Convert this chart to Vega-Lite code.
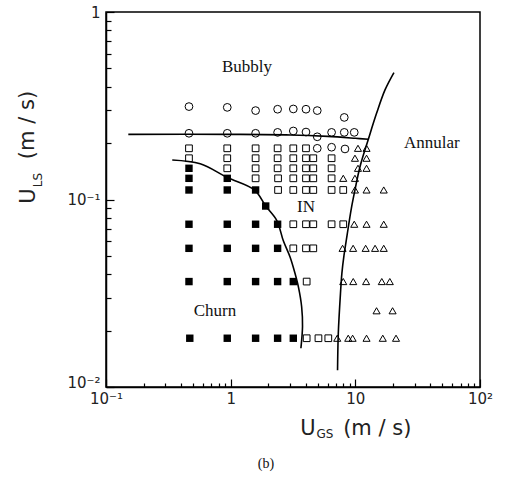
{
  "$schema": "https://vega.github.io/schema/vega-lite/v6.json",
  "width": 374,
  "height": 375,
  "autosize": {"type": "none"},
  "padding": {"left": 106, "top": 12, "right": 30, "bottom": 90},
  "background": "white",
  "config": {
    "view": {"stroke": "black", "strokeWidth": 1.5},
    "axis": {
      "domainColor": "black",
      "domainWidth": 1.5,
      "tickColor": "black",
      "tickWidth": 1.2,
      "grid": false,
      "labelFont": "DejaVu Sans",
      "labelFontSize": 15,
      "labelColor": "#222"
    }
  },
  "datasets": {
    "pts": [
      {"x": 0.463, "y": 0.313, "k": "b"}, {"x": 0.939, "y": 0.31, "k": "b"}, {"x": 1.585, "y": 0.298, "k": "b"},
      {"x": 2.38, "y": 0.303, "k": "b"}, {"x": 3.18, "y": 0.304, "k": "b"}, {"x": 4.02, "y": 0.303, "k": "b"},
      {"x": 4.95, "y": 0.298, "k": "b"}, {"x": 8.15, "y": 0.274, "k": "b"},
      {"x": 0.463, "y": 0.2255, "k": "b"}, {"x": 0.939, "y": 0.2255, "k": "b"}, {"x": 1.585, "y": 0.2255, "k": "b"},
      {"x": 2.38, "y": 0.228, "k": "b"}, {"x": 3.18, "y": 0.232, "k": "b"}, {"x": 4.02, "y": 0.229, "k": "b"},
      {"x": 4.95, "y": 0.216, "k": "b"}, {"x": 6.45, "y": 0.228, "k": "b"}, {"x": 8.15, "y": 0.228, "k": "b"},
      {"x": 9.8, "y": 0.228, "k": "b"},
      {"x": 4.95, "y": 0.1875, "k": "b"}, {"x": 6.45, "y": 0.19, "k": "b"}, {"x": 8.26, "y": 0.186, "k": "b"},

      {"x": 0.463, "y": 0.1875, "k": "i"}, {"x": 0.939, "y": 0.1875, "k": "i"}, {"x": 1.585, "y": 0.1875, "k": "i"},
      {"x": 2.38, "y": 0.1875, "k": "i"}, {"x": 3.18, "y": 0.1875, "k": "i"}, {"x": 4.02, "y": 0.1875, "k": "i"},
      {"x": 0.463, "y": 0.166, "k": "i"}, {"x": 0.939, "y": 0.166, "k": "i"}, {"x": 1.585, "y": 0.166, "k": "i"},
      {"x": 2.38, "y": 0.166, "k": "i"}, {"x": 3.18, "y": 0.166, "k": "i"}, {"x": 4.02, "y": 0.166, "k": "i"},
      {"x": 4.6, "y": 0.166, "k": "i"}, {"x": 6.45, "y": 0.166, "k": "i"},
      {"x": 0.939, "y": 0.1467, "k": "i"}, {"x": 1.585, "y": 0.1467, "k": "i"}, {"x": 2.38, "y": 0.1467, "k": "i"},
      {"x": 3.18, "y": 0.1467, "k": "i"}, {"x": 4.02, "y": 0.1467, "k": "i"}, {"x": 4.6, "y": 0.1467, "k": "i"},
      {"x": 6.45, "y": 0.1467, "k": "i"},
      {"x": 1.585, "y": 0.1297, "k": "i"}, {"x": 2.4, "y": 0.1297, "k": "i"}, {"x": 3.18, "y": 0.1297, "k": "i"},
      {"x": 4.02, "y": 0.1297, "k": "i"}, {"x": 4.6, "y": 0.1297, "k": "i"}, {"x": 6.45, "y": 0.1297, "k": "i"},
      {"x": 2.4, "y": 0.1124, "k": "i"}, {"x": 3.18, "y": 0.1124, "k": "i"}, {"x": 4.02, "y": 0.1124, "k": "i"},
      {"x": 4.6, "y": 0.1124, "k": "i"}, {"x": 6.45, "y": 0.1124, "k": "i"}, {"x": 8.0, "y": 0.1124, "k": "i"},
      {"x": 3.18, "y": 0.0738, "k": "i"}, {"x": 4.02, "y": 0.0738, "k": "i"}, {"x": 4.6, "y": 0.0738, "k": "i"},
      {"x": 6.45, "y": 0.0738, "k": "i"}, {"x": 8.0, "y": 0.0738, "k": "i"},
      {"x": 3.18, "y": 0.0549, "k": "i"}, {"x": 4.02, "y": 0.0549, "k": "i"}, {"x": 4.6, "y": 0.0549, "k": "i"},
      {"x": 4.07, "y": 0.0365, "k": "i"},
      {"x": 4.07, "y": 0.0182, "k": "i"}, {"x": 5.06, "y": 0.0182, "k": "i"}, {"x": 6.07, "y": 0.0182, "k": "i"},

      {"x": 0.463, "y": 0.1467, "k": "c"}, {"x": 0.463, "y": 0.1297, "k": "c"}, {"x": 0.463, "y": 0.1124, "k": "c"},
      {"x": 0.463, "y": 0.0738, "k": "c"}, {"x": 0.463, "y": 0.0549, "k": "c"}, {"x": 0.463, "y": 0.0365, "k": "c"},
      {"x": 0.47, "y": 0.0182, "k": "c"},
      {"x": 0.939, "y": 0.1297, "k": "c"}, {"x": 0.939, "y": 0.1124, "k": "c"}, {"x": 0.939, "y": 0.0738, "k": "c"},
      {"x": 0.939, "y": 0.0549, "k": "c"}, {"x": 0.939, "y": 0.0365, "k": "c"}, {"x": 0.939, "y": 0.0182, "k": "c"},
      {"x": 1.585, "y": 0.1124, "k": "c"}, {"x": 1.585, "y": 0.0738, "k": "c"}, {"x": 1.585, "y": 0.0549, "k": "c"},
      {"x": 1.585, "y": 0.0365, "k": "c"}, {"x": 1.585, "y": 0.0182, "k": "c"},
      {"x": 1.91, "y": 0.0923, "k": "c"},
      {"x": 2.38, "y": 0.0738, "k": "c"}, {"x": 2.38, "y": 0.0549, "k": "c"}, {"x": 2.38, "y": 0.0365, "k": "c"},
      {"x": 2.38, "y": 0.0182, "k": "c"},
      {"x": 3.18, "y": 0.0365, "k": "c"}, {"x": 3.18, "y": 0.0182, "k": "c"},

      {"x": 10.5, "y": 0.1875, "k": "a"}, {"x": 12.3, "y": 0.1875, "k": "a"},
      {"x": 9.93, "y": 0.166, "k": "a"}, {"x": 12.3, "y": 0.166, "k": "a"},
      {"x": 10.5, "y": 0.1467, "k": "a"}, {"x": 12.3, "y": 0.1467, "k": "a"},
      {"x": 8.0, "y": 0.1297, "k": "a"}, {"x": 9.93, "y": 0.1297, "k": "a"},
      {"x": 9.93, "y": 0.1124, "k": "a"}, {"x": 12.3, "y": 0.1124, "k": "a"}, {"x": 16.9, "y": 0.1124, "k": "a"},
      {"x": 9.8, "y": 0.0738, "k": "a"}, {"x": 12.3, "y": 0.0738, "k": "a"}, {"x": 16.9, "y": 0.0738, "k": "a"},
      {"x": 7.9, "y": 0.0549, "k": "a"}, {"x": 9.6, "y": 0.0549, "k": "a"}, {"x": 12.1, "y": 0.0549, "k": "a"},
      {"x": 14.4, "y": 0.0549, "k": "a"}, {"x": 16.9, "y": 0.0549, "k": "a"},
      {"x": 8.0, "y": 0.0365, "k": "a"}, {"x": 9.62, "y": 0.0365, "k": "a"}, {"x": 12.2, "y": 0.0365, "k": "a"},
      {"x": 16.3, "y": 0.0365, "k": "a"}, {"x": 18.9, "y": 0.0365, "k": "a"},
      {"x": 14.8, "y": 0.0255, "k": "a"}, {"x": 19.9, "y": 0.0255, "k": "a"},
      {"x": 7.16, "y": 0.0182, "k": "a"}, {"x": 8.77, "y": 0.0182, "k": "a"}, {"x": 9.51, "y": 0.0182, "k": "a"},
      {"x": 12.3, "y": 0.0182, "k": "a"}, {"x": 16.6, "y": 0.0182, "k": "a"}, {"x": 21.2, "y": 0.0182, "k": "a"}
    ],
    "curves": [
      {"c": "top", "i": 0, "x": 0.151, "y": 0.2225},
      {"c": "top", "i": 1, "x": 1.0, "y": 0.2225},
      {"c": "top", "i": 2, "x": 3.0, "y": 0.221},
      {"c": "top", "i": 3, "x": 6.0, "y": 0.217},
      {"c": "top", "i": 4, "x": 10.0, "y": 0.212},
      {"c": "top", "i": 5, "x": 12.7, "y": 0.2094},

      {"c": "churn", "i": 0, "x": 0.34, "y": 0.1625},
      {"c": "churn", "i": 1, "x": 0.57, "y": 0.155},
      {"c": "churn", "i": 2, "x": 0.94, "y": 0.131},
      {"c": "churn", "i": 3, "x": 1.55, "y": 0.1124},
      {"c": "churn", "i": 4, "x": 1.91, "y": 0.0923},
      {"c": "churn", "i": 5, "x": 2.34, "y": 0.0775},
      {"c": "churn", "i": 6, "x": 2.65, "y": 0.06},
      {"c": "churn", "i": 7, "x": 2.99, "y": 0.0495},
      {"c": "churn", "i": 8, "x": 3.28, "y": 0.0404},
      {"c": "churn", "i": 9, "x": 3.5, "y": 0.034},
      {"c": "churn", "i": 10, "x": 3.71, "y": 0.0268},
      {"c": "churn", "i": 11, "x": 3.77, "y": 0.021},
      {"c": "churn", "i": 12, "x": 3.66, "y": 0.0161},

      {"c": "ann", "i": 0, "x": 7.2, "y": 0.0123},
      {"c": "ann", "i": 1, "x": 7.3, "y": 0.0193},
      {"c": "ann", "i": 2, "x": 7.6, "y": 0.0316},
      {"c": "ann", "i": 3, "x": 7.8, "y": 0.0404},
      {"c": "ann", "i": 4, "x": 8.1, "y": 0.05},
      {"c": "ann", "i": 5, "x": 8.6, "y": 0.065},
      {"c": "ann", "i": 6, "x": 9.3, "y": 0.09},
      {"c": "ann", "i": 7, "x": 9.93, "y": 0.1124},
      {"c": "ann", "i": 8, "x": 10.9, "y": 0.1496},
      {"c": "ann", "i": 9, "x": 12.7, "y": 0.209},
      {"c": "ann", "i": 10, "x": 14.8, "y": 0.288},
      {"c": "ann", "i": 11, "x": 17.3, "y": 0.384},
      {"c": "ann", "i": 12, "x": 20.4, "y": 0.475}
    ],
    "regions": [
      {"t": "Bubbly", "x": 1.35, "y": 0.509},
      {"t": "Annular", "x": 41.1, "y": 0.2},
      {"t": "IN", "x": 4.02, "y": 0.0912},
      {"t": "Churn", "x": 0.748, "y": 0.0254}
    ],
    "caption": [
      {"t": "(b)", "x": 1.92, "y": 0.00388}
    ],
    "titles": [
      {"t": "U", "x": 4.17, "y": 0.00597, "p": "xbig"},
      {"t": "GS", "x": 5.7, "y": 0.00561, "p": "xsub"},
      {"t": "(m / s)", "x": 15.0, "y": 0.00597, "p": "xbig"},
      {"t": "U", "x": 0.02415, "y": 0.1044, "p": "ybig"},
      {"t": "LS", "x": 0.0285, "y": 0.127, "p": "ysub"},
      {"t": "(m / s)", "x": 0.02368, "y": 0.2496, "p": "ybig"}
    ]
  },
  "encoding": {
    "x": {
      "field": "x", "type": "quantitative",
      "scale": {"type": "log", "domain": [0.1, 100], "nice": false, "zero": false},
      "axis": {
        "title": null,
        "values": [0.1, 0.2, 0.3, 0.4, 0.5, 0.6, 0.7, 0.8, 0.9, 1, 2, 3, 4, 5, 6, 7, 8, 9, 10, 20, 30, 40, 50, 60, 70, 80, 90, 100],
        "labelExpr": "datum.value == 0.1 ? '10⁻¹' : datum.value == 1 ? '1' : datum.value == 10 ? '10' : datum.value == 100 ? '10²' : ''",
        "tickSize": {"condition": {"test": "datum.value == 0.1 || datum.value == 1 || datum.value == 10 || datum.value == 100", "value": -8}, "value": -4},
        "labelOverlap": false,
        "labelFlush": false,
        "labelPadding": 12
      }
    },
    "y": {
      "field": "y", "type": "quantitative",
      "scale": {"type": "log", "domain": [0.01, 1], "nice": false, "zero": false},
      "axis": {
        "title": null,
        "values": [0.01, 0.02, 0.03, 0.04, 0.05, 0.06, 0.07, 0.08, 0.09, 0.1, 0.2, 0.3, 0.4, 0.5, 0.6, 0.7, 0.8, 0.9, 1],
        "labelExpr": "datum.value == 0.01 ? '10⁻²' : datum.value == 0.1 ? '10⁻¹' : datum.value == 1 ? '1' : ''",
        "tickSize": {"condition": {"test": "datum.value == 0.01 || datum.value == 0.1 || datum.value == 1", "value": -8}, "value": -5},
        "labelBaseline": {"condition": {"test": "datum.value == 0.01", "value": "alphabetic"}, "value": "middle"},
        "labelOverlap": false,
        "labelFlush": false,
        "labelPadding": 14
      }
    }
  },
  "layer": [
    {
      "data": {"name": "curves"},
      "mark": {"type": "line", "color": "black", "strokeWidth": 1.6, "interpolate": "catmull-rom"},
      "encoding": {"detail": {"field": "c"}, "order": {"field": "i", "type": "quantitative"}}
    },
    {
      "data": {"name": "pts"},
      "transform": [{"filter": "datum.k == 'b'"}],
      "mark": {"type": "point", "shape": "circle", "size": 60, "filled": false, "stroke": "black", "strokeWidth": 1, "opacity": 1}
    },
    {
      "data": {"name": "pts"},
      "transform": [{"filter": "datum.k == 'i'"}],
      "mark": {"type": "point", "shape": "square", "size": 45, "filled": false, "stroke": "black", "strokeWidth": 1, "opacity": 1}
    },
    {
      "data": {"name": "pts"},
      "transform": [{"filter": "datum.k == 'c'"}],
      "mark": {"type": "point", "shape": "square", "size": 55, "filled": true, "fill": "black", "stroke": null, "opacity": 1}
    },
    {
      "data": {"name": "pts"},
      "transform": [{"filter": "datum.k == 'a'"}],
      "mark": {"type": "point", "shape": "triangle-up", "size": 50, "filled": false, "stroke": "black", "strokeWidth": 1, "opacity": 1}
    },
    {
      "data": {"name": "regions"},
      "mark": {"type": "text", "font": "Liberation Serif", "fontSize": 17, "fill": "#111", "align": "center", "baseline": "middle"},
      "encoding": {"text": {"field": "t"}}
    },
    {
      "data": {"name": "caption"},
      "mark": {"type": "text", "font": "Liberation Serif", "fontSize": 14, "fill": "#111", "align": "center", "baseline": "middle"},
      "encoding": {"text": {"field": "t"}}
    },
    {
      "data": {"name": "titles"},
      "transform": [{"filter": "datum.p == 'xbig'"}],
      "mark": {"type": "text", "font": "DejaVu Sans", "fontSize": 21, "fill": "#222", "align": "center", "baseline": "middle"},
      "encoding": {"text": {"field": "t"}}
    },
    {
      "data": {"name": "titles"},
      "transform": [{"filter": "datum.p == 'xsub'"}],
      "mark": {"type": "text", "font": "DejaVu Sans", "fontSize": 12, "fill": "#222", "align": "center", "baseline": "middle"},
      "encoding": {"text": {"field": "t"}}
    },
    {
      "data": {"name": "titles"},
      "transform": [{"filter": "datum.p == 'ybig'"}],
      "mark": {"type": "text", "font": "DejaVu Sans", "fontSize": 21, "fill": "#222", "align": "center", "baseline": "middle", "angle": 270},
      "encoding": {"text": {"field": "t"}}
    },
    {
      "data": {"name": "titles"},
      "transform": [{"filter": "datum.p == 'ysub'"}],
      "mark": {"type": "text", "font": "DejaVu Sans", "fontSize": 12, "fill": "#222", "align": "center", "baseline": "middle", "angle": 270},
      "encoding": {"text": {"field": "t"}}
    }
  ]
}
